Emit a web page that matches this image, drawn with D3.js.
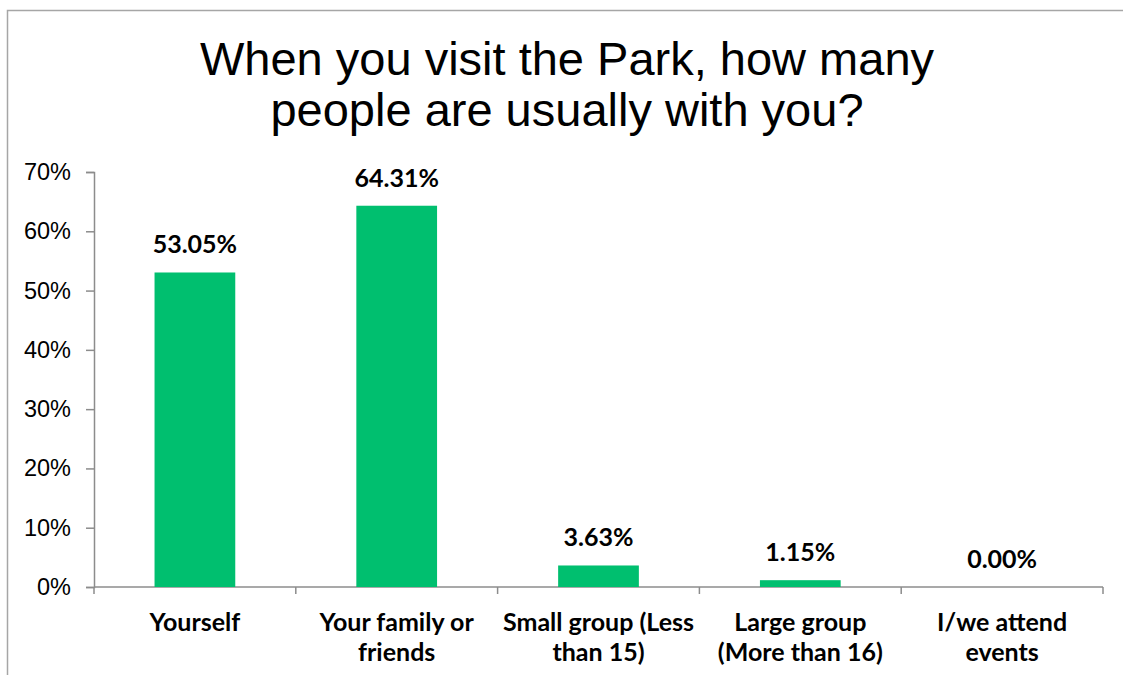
<!DOCTYPE html>
<html>
<head>
<meta charset="utf-8">
<script src="https://cdn.jsdelivr.net/npm/d3@7"></script>
<style>
  body { margin: 0; background: #fff; }
  svg { display: block; }
</style>
</head>
<body>
<script>
    var categories = [
      ["Yourself"],
      ["Your family or", "friends"],
      ["Small group (Less", "than 15)"],
      ["Large group", "(More than 16)"],
      ["I/we attend", "events"]
    ];
    var values = [53.05, 64.31, 3.63, 1.15, 0.00];
    var yTicks = [0, 10, 20, 30, 40, 50, 60, 70];
    var titleLines = ["When you visit the Park, how many", "people are usually with you?"];

    var width = 1123, height = 675;
    var margin = {top: 172, left: 94, right: 20, bottom: 88};

    var svg = d3.select("body").append("svg").attr("width", width).attr("height", height);

    // outer frame
    svg.append("rect")
        .attr("x", 7.5).attr("y", 10.5)
        .attr("width", 1300).attr("height", 900)
        .attr("fill", "none")
        .attr("stroke", "#a6a6a6")
        .attr("stroke-width", 1.5);

    // title
    svg.append("text")
        .attr("text-anchor", "middle")
        .style("font-family", "'Liberation Sans', Arial, sans-serif")
        .style("font-size", "47px")
        .attr("fill", "#000")
      .selectAll("tspan")
        .data(titleLines)
      .enter().append("tspan")
        .attr("x", 567)
        .attr("y", function(d, i){ return 75 + i * 51; })
        .text(function(d){ return d; });

    var x = d3.scaleBand()
        .domain(d3.range(categories.length))
        .range([margin.left, 1103])
        .paddingInner(0.6)
        .paddingOuter(0.3);

    var y = d3.scaleLinear()
        .domain([0, 70])
        .range([587, margin.top]);

    // y axis
    var yAxis = d3.axisLeft(y)
        .tickValues(yTicks)
        .tickSize(8)
        .tickPadding(15)
        .tickFormat(function(d){ return d + "%"; });

    var gy = svg.append("g")
        .attr("transform", "translate(" + margin.left + ",0)")
        .call(yAxis);
    gy.select(".domain").attr("stroke", "#8c8c8c").attr("stroke-width", 1.5);
    gy.selectAll(".tick line").attr("stroke", "#8c8c8c").attr("stroke-width", 1.5);
    gy.selectAll(".tick text")
        .style("font-family", "'Liberation Sans', Arial, sans-serif")
        .style("font-size", "23.5px")
        .attr("fill", "#000");

    // x axis line and boundary ticks
    var bx = d3.scaleLinear().domain([0, categories.length]).range([margin.left, 1103]);
    svg.append("line")
        .attr("x1", bx(0)).attr("x2", bx(categories.length))
        .attr("y1", y(0)).attr("y2", y(0))
        .attr("stroke", "#8c8c8c").attr("stroke-width", 1.5);
    svg.selectAll(".xtick")
        .data(d3.range(categories.length + 1))
      .enter().append("line")
        .attr("class", "xtick")
        .attr("x1", function(d){ return bx(d); })
        .attr("x2", function(d){ return bx(d); })
        .attr("y1", y(0)).attr("y2", y(0) + 7)
        .attr("stroke", "#8c8c8c").attr("stroke-width", 1.5);

    // bars
    svg.selectAll(".bar")
        .data(values)
      .enter().append("rect")
        .attr("class", "bar")
        .attr("x", function(d, i){ return x(i); })
        .attr("width", x.bandwidth())
        .attr("y", function(d){ return y(d); })
        .attr("height", function(d){ return y(0) - y(d); })
        .attr("fill", "#00bf6f");

    // value labels
    svg.selectAll(".val")
        .data(values)
      .enter().append("text")
        .attr("class", "val")
        .attr("text-anchor", "middle")
        .attr("x", function(d, i){ return x(i) + x.bandwidth() / 2; })
        .attr("y", function(d){ return y(d) - 19; })
        .style("font-family", "Lato, 'Open Sans', sans-serif")
        .style("font-weight", "bold")
        .style("font-size", "25px")
        .attr("fill", "#000")
        .text(function(d){ return d.toFixed(2) + "%"; });

    // category labels
    var cat = svg.selectAll(".cat")
        .data(categories)
      .enter().append("text")
        .attr("class", "cat")
        .attr("text-anchor", "middle")
        .style("font-family", "Lato, 'Open Sans', sans-serif")
        .style("font-weight", "bold")
        .style("font-size", "25px")
        .attr("fill", "#000");
    cat.selectAll("tspan")
        .data(function(d, i){ return d.map(function(t){ return {t: t, i: i}; }); })
      .enter().append("tspan")
        .attr("x", function(d){ return x(d.i) + x.bandwidth() / 2; })
        .attr("y", function(d, j){ return 631 + j * 30; })
        .text(function(d){ return d.t; });
</script>
</body>
</html>
